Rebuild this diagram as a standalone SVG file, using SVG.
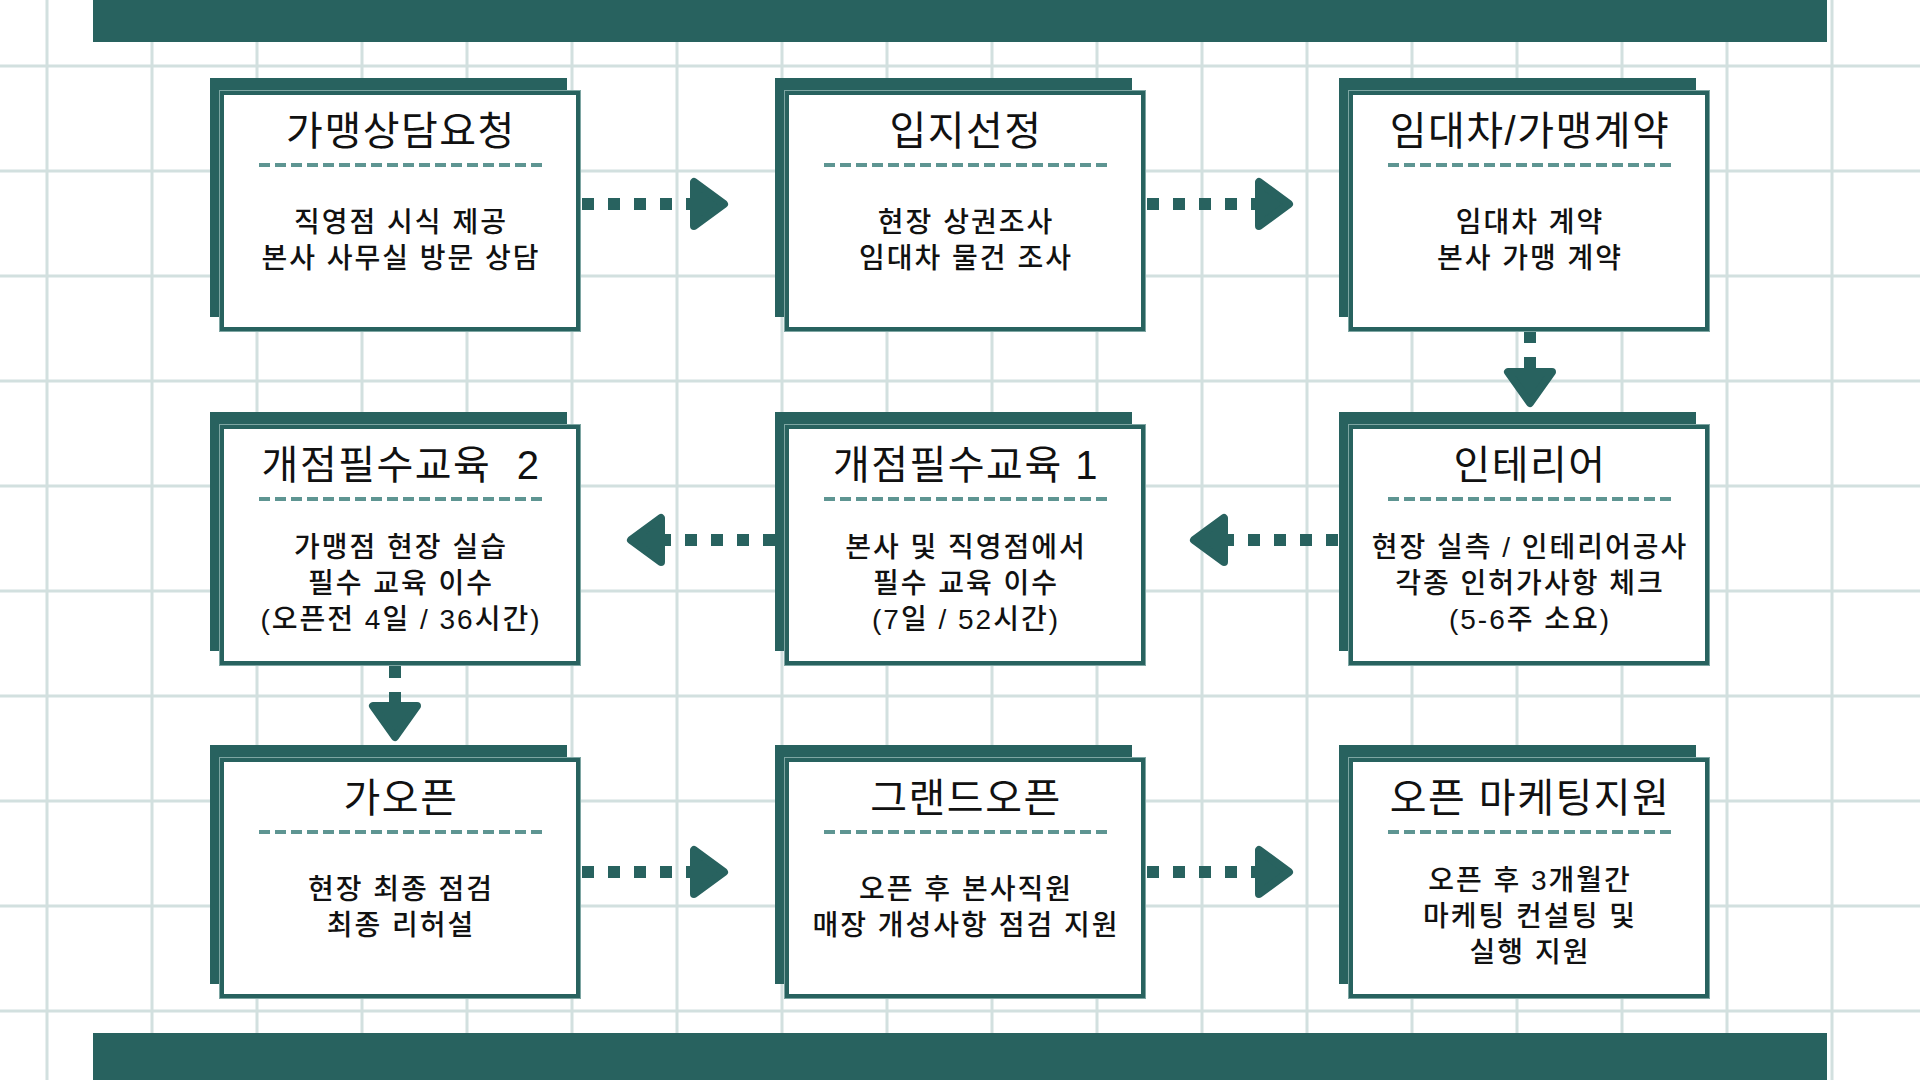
<svg xmlns="http://www.w3.org/2000/svg" width="1920" height="1080" viewBox="0 0 1920 1080">
<style>
.grid{stroke:#d2e0df;stroke-width:3;fill:none}
.bar{fill:#28625f}
.shadow{fill:#28625f}
.edge{fill:none;stroke:#7ea6a3;stroke-width:1}
.box{fill:#ffffff;stroke:#28625f;stroke-width:4}
.sep{stroke:#5e9592;stroke-width:4;stroke-dasharray:11 5;fill:none}
.title{font-family:"Liberation Sans","Noto Sans CJK KR",sans-serif;font-size:40px;font-weight:400;letter-spacing:1.5px;fill:#111111;text-anchor:middle;white-space:pre}
.body{font-family:"Liberation Sans","Noto Sans CJK KR",sans-serif;font-size:28px;font-weight:500;letter-spacing:2px;fill:#111111;text-anchor:middle}
.dots{stroke:#28625f;stroke-width:12;stroke-dasharray:12 14;fill:none}
.head{fill:#28625f;stroke:#28625f;stroke-width:8;stroke-linejoin:round}
</style>
<rect x="0" y="0" width="1920" height="1080" fill="#ffffff"/>
<g id="grid">
<path class="grid" d="M47 0V1080M152 0V1080M257 0V1080M362 0V1080M467 0V1080M572 0V1080M677 0V1080M782 0V1080M887 0V1080M992 0V1080M1097 0V1080M1202 0V1080M1307 0V1080M1412 0V1080M1517 0V1080M1622 0V1080M1727 0V1080M1832 0V1080M0 66H1920M0 171H1920M0 276H1920M0 381H1920M0 486H1920M0 591H1920M0 696H1920M0 801H1920M0 906H1920M0 1011H1920"/>
</g>
<rect class="bar" x="93" y="0" width="1734" height="42"/>
<rect class="bar" x="93" y="1033" width="1734" height="47"/>

<g id="connectors">
<line class="dots" x1="582" y1="204" x2="698" y2="204"/>
<polygon class="head" points="724,204 694,182 694,226"/>
<line class="dots" x1="1147" y1="204" x2="1263" y2="204"/>
<polygon class="head" points="1289,204 1259,182 1259,226"/>
<line class="dots" x1="1530" y1="331" x2="1530" y2="375"/>
<polygon class="head" points="1530,403 1508,372 1552,372"/>
<line class="dots" x1="1338" y1="540" x2="1222" y2="540"/>
<polygon class="head" points="1194,540 1224,518 1224,562"/>
<line class="dots" x1="775" y1="540" x2="659" y2="540"/>
<polygon class="head" points="631,540 661,518 661,562"/>
<line class="dots" x1="395" y1="666" x2="395" y2="709"/>
<polygon class="head" points="395,737 373,706 417,706"/>
<line class="dots" x1="582" y1="872" x2="698" y2="872"/>
<polygon class="head" points="724,872 694,850 694,894"/>
<line class="dots" x1="1147" y1="872" x2="1263" y2="872"/>
<polygon class="head" points="1289,872 1259,850 1259,894"/>
</g>

<g id="node1">
<rect class="shadow" x="210" y="78" width="357" height="239"/>
<rect class="edge" x="219.5" y="90.5" width="361" height="241"/>
<rect class="box" x="222" y="93" width="356" height="236"/>
<text class="title" x="401" y="145">가맹상담요청</text>
<line class="sep" x1="259" y1="165" x2="543" y2="165"/>
<text class="body" x="401" y="232">직영점 시식 제공</text>
<text class="body" x="401" y="268">본사 사무실 방문 상담</text>
</g>
<g id="node2">
<rect class="shadow" x="775" y="78" width="357" height="239"/>
<rect class="edge" x="784.5" y="90.5" width="361" height="241"/>
<rect class="box" x="787" y="93" width="356" height="236"/>
<text class="title" x="966" y="145">입지선정</text>
<line class="sep" x1="824" y1="165" x2="1108" y2="165"/>
<text class="body" x="966" y="232">현장 상권조사</text>
<text class="body" x="966" y="268">임대차 물건 조사</text>
</g>
<g id="node3">
<rect class="shadow" x="1339" y="78" width="357" height="239"/>
<rect class="edge" x="1348.5" y="90.5" width="361" height="241"/>
<rect class="box" x="1351" y="93" width="356" height="236"/>
<text class="title" x="1530" y="145">임대차/가맹계약</text>
<line class="sep" x1="1388" y1="165" x2="1672" y2="165"/>
<text class="body" x="1530" y="232">임대차 계약</text>
<text class="body" x="1530" y="268">본사 가맹 계약</text>
</g>

<g id="node4">
<rect class="shadow" x="210" y="412" width="357" height="239"/>
<rect class="edge" x="219.5" y="424.5" width="361" height="241"/>
<rect class="box" x="222" y="427" width="356" height="236"/>
<text class="title" x="401" y="479">개점필수교육  2</text>
<line class="sep" x1="259" y1="499" x2="543" y2="499"/>
<text class="body" x="401" y="557">가맹점 현장 실습</text>
<text class="body" x="401" y="593">필수 교육 이수</text>
<text class="body" x="401" y="629">(오픈전 4일 / 36시간)</text>
</g>
<g id="node5">
<rect class="shadow" x="775" y="412" width="357" height="239"/>
<rect class="edge" x="784.5" y="424.5" width="361" height="241"/>
<rect class="box" x="787" y="427" width="356" height="236"/>
<text class="title" x="966" y="479">개점필수교육 1</text>
<line class="sep" x1="824" y1="499" x2="1108" y2="499"/>
<text class="body" x="966" y="557">본사 및 직영점에서</text>
<text class="body" x="966" y="593">필수 교육 이수</text>
<text class="body" x="966" y="629">(7일 / 52시간)</text>
</g>
<g id="node6">
<rect class="shadow" x="1339" y="412" width="357" height="239"/>
<rect class="edge" x="1348.5" y="424.5" width="361" height="241"/>
<rect class="box" x="1351" y="427" width="356" height="236"/>
<text class="title" x="1530" y="479">인테리어</text>
<line class="sep" x1="1388" y1="499" x2="1672" y2="499"/>
<text class="body" x="1530" y="557">현장 실측 / 인테리어공사</text>
<text class="body" x="1530" y="593">각종 인허가사항 체크</text>
<text class="body" x="1530" y="629">(5-6주 소요)</text>
</g>

<g id="node7">
<rect class="shadow" x="210" y="745" width="357" height="239"/>
<rect class="edge" x="219.5" y="757.5" width="361" height="241"/>
<rect class="box" x="222" y="760" width="356" height="236"/>
<text class="title" x="401" y="812">가오픈</text>
<line class="sep" x1="259" y1="832" x2="543" y2="832"/>
<text class="body" x="401" y="899">현장 최종 점검</text>
<text class="body" x="401" y="935">최종 리허설</text>
</g>
<g id="node8">
<rect class="shadow" x="775" y="745" width="357" height="239"/>
<rect class="edge" x="784.5" y="757.5" width="361" height="241"/>
<rect class="box" x="787" y="760" width="356" height="236"/>
<text class="title" x="966" y="812">그랜드오픈</text>
<line class="sep" x1="824" y1="832" x2="1108" y2="832"/>
<text class="body" x="966" y="899">오픈 후 본사직원</text>
<text class="body" x="966" y="935">매장 개성사항 점검 지원</text>
</g>
<g id="node9">
<rect class="shadow" x="1339" y="745" width="357" height="239"/>
<rect class="edge" x="1348.5" y="757.5" width="361" height="241"/>
<rect class="box" x="1351" y="760" width="356" height="236"/>
<text class="title" x="1530" y="812">오픈 마케팅지원</text>
<line class="sep" x1="1388" y1="832" x2="1672" y2="832"/>
<text class="body" x="1530" y="890">오픈 후 3개월간</text>
<text class="body" x="1530" y="926">마케팅 컨설팅 및</text>
<text class="body" x="1530" y="962">실행 지원</text>
</g>
</svg>
